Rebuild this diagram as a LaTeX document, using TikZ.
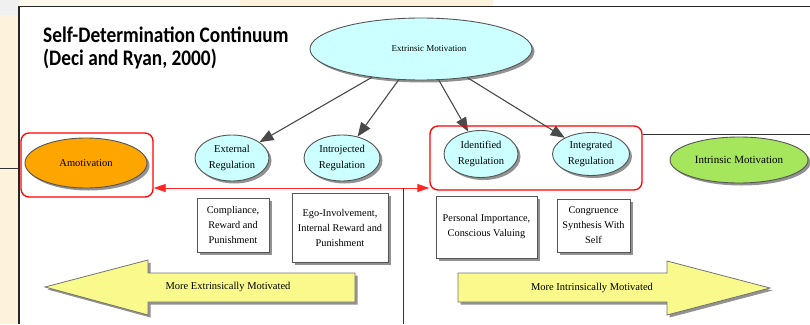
\documentclass[tikz,border=0pt]{standalone}
\usepackage{fontspec}
\setmainfont{Liberation Serif}
\newfontfamily\titlefont{Carlito}
\usetikzlibrary{arrows.meta,shapes.geometric,shadows}

\definecolor{cream}{HTML}{FDF3DC}
\definecolor{skyfill}{HTML}{CCFFFF}
\definecolor{amofill}{HTML}{FFA500}
\definecolor{intfill}{HTML}{A6E65C}
\definecolor{bigarrow}{HTML}{FAFA8C}
\definecolor{edgegray}{HTML}{555555}
\definecolor{linkgray}{HTML}{4A4A4A}

\begin{document}
\begin{tikzpicture}[x=1pt,y=-1pt,
  shade/.style={drop shadow={shadow xshift=2.5pt,shadow yshift=-2.5pt,fill=black!50,opacity=0.85}},
  oval/.style={ellipse,draw=edgegray,line width=0.9pt,shade,inner sep=0pt,align=center,
    font=\fontsize{10.5}{16}\selectfont},
  notebox/.style={rectangle,draw=edgegray,fill=white,line width=0.8pt,shade,inner sep=0pt,align=center,
    font=\fontsize{10.3}{15}\selectfont},
  groupbox/.style={rectangle,draw=red,line width=1.3pt,rounded corners=8pt,inner sep=0pt},
  link/.style={draw=linkgray,line width=1.1pt,-{Triangle[length=14pt,width=11pt]}},
  redlink/.style={draw=red!85,line width=0.8pt,{Triangle[length=12pt,width=8pt]}-{Triangle[length=12pt,width=8pt]}},
  plain/.style={draw=black!80,line width=0.9pt},
  bigarr/.style={draw=black!55,line width=0.8pt,fill=bigarrow,shade},
  arrlabel/.style={inner sep=0pt,font=\fontsize{10.5}{12}\selectfont},
  heading/.style={anchor=base west,inner sep=0pt,font=\titlefont\bfseries\fontsize{19.3}{20}\selectfont}
]
\useasboundingbox (0,0) rectangle (810,324);

% slide background strips
\fill[white] (0,0) rectangle (810,324);
\fill[cream!55] (0,0) rectangle (240,6.5);
\fill[cream] (240,0) rectangle (493,6.5);
\fill[black!6] (0,0) rectangle (19,15);
\fill[cream] (0,15) rectangle (19,324);
\draw[plain] (0,168) -- (19,168);

% frame of the panel
\draw[black!85,line width=1.4pt] (19,324) -- (19,6.5) -- (810,6.5);

% title
\node[heading] (title1) at (43,42) {\scalebox{1}[1.15]{Self-Determination Continuum}};
\node[heading] (title2) at (43,65) {\scalebox{1}[1.15]{(Deci and Ryan, 2000)}};

% motivation ellipses
\node[oval,fill=skyfill,minimum width=222pt,minimum height=62pt,font=\fontsize{9}{12}\selectfont] (ext) at (421,49) {\hspace*{16pt}Extrinsic Motivation};
\node[oval,fill=skyfill,minimum width=74pt,minimum height=46pt] (er) at (232,158) {External\\Regulation};
\node[oval,fill=skyfill,minimum width=76pt,minimum height=46pt] (ij) at (342,158) {Introjected\\Regulation};
\node[oval,fill=skyfill,minimum width=74pt,minimum height=47pt] (id) at (481,154) {Identified\\Regulation};
\node[oval,fill=skyfill,minimum width=77pt,minimum height=43pt] (ig) at (591,154) {Integrated\\Regulation};
\node[oval,fill=amofill,minimum width=122pt,minimum height=50pt] (amo) at (86,163) {Amotivation};
\node[oval,fill=intfill,minimum width=138pt,minimum height=46pt,font=\fontsize{11}{12}\selectfont] (intr) at (739,160) {Intrinsic Motivation};

% links from extrinsic motivation
\draw[link] (ext) -- (er);
\draw[link] (ext) -- (ij);
\draw[link] (ext) -- (id);
\draw[link] (ext) -- (ig);

% description boxes
\node[notebox,minimum width=72pt,minimum height=54pt] (comp) at (233,225) {Compliance,\\Reward and\\Punishment};
\node[notebox,minimum width=96pt,minimum height=69pt] (ego) at (340,227.5) {Ego-Involvement,\\Internal Reward and\\Punishment};
\node[notebox,minimum width=101pt,minimum height=62pt] (pers) at (486.5,227) {Personal Importance,\\Conscious Valuing};
\node[notebox,minimum width=73pt,minimum height=53pt] (cong) at (593.5,225.5) {Congruence\\Synthesis With\\Self};

% red grouping frames and the span between them
\node[groupbox,minimum width=132pt,minimum height=64pt] (grpL) at (87,165) {};
\node[groupbox,minimum width=212pt,minimum height=64pt] (grpR) at (536,158) {};
\coordinate (spanY) at (0,188);
\draw[redlink] (grpL.east |- spanY) -- (grpR.west |- spanY);

% divider lines
\coordinate (divTop) at (403,188);
\coordinate (divBot) at (403,324);
\draw[plain] (divTop) -- (divBot);
\coordinate (railL) at (643,134);
\coordinate (railR) at (810,134);
\draw[plain] (railL) -- (railR);

% direction arrows
\draw[bigarr] (45,287) -- (148,260) -- (148,273) -- (355,273) -- (355,302) -- (148,302) -- (148,315) -- cycle;
\draw[bigarr] (770,288) -- (667,261) -- (667,273) -- (458,273) -- (458,302) -- (667,302) -- (667,315) -- cycle;
\node[arrlabel] (extLbl) at (228,287) {More Extrinsically Motivated};
\node[arrlabel] (intLbl) at (592,288) {More Intrinsically Motivated};
\end{tikzpicture}
\end{document}
